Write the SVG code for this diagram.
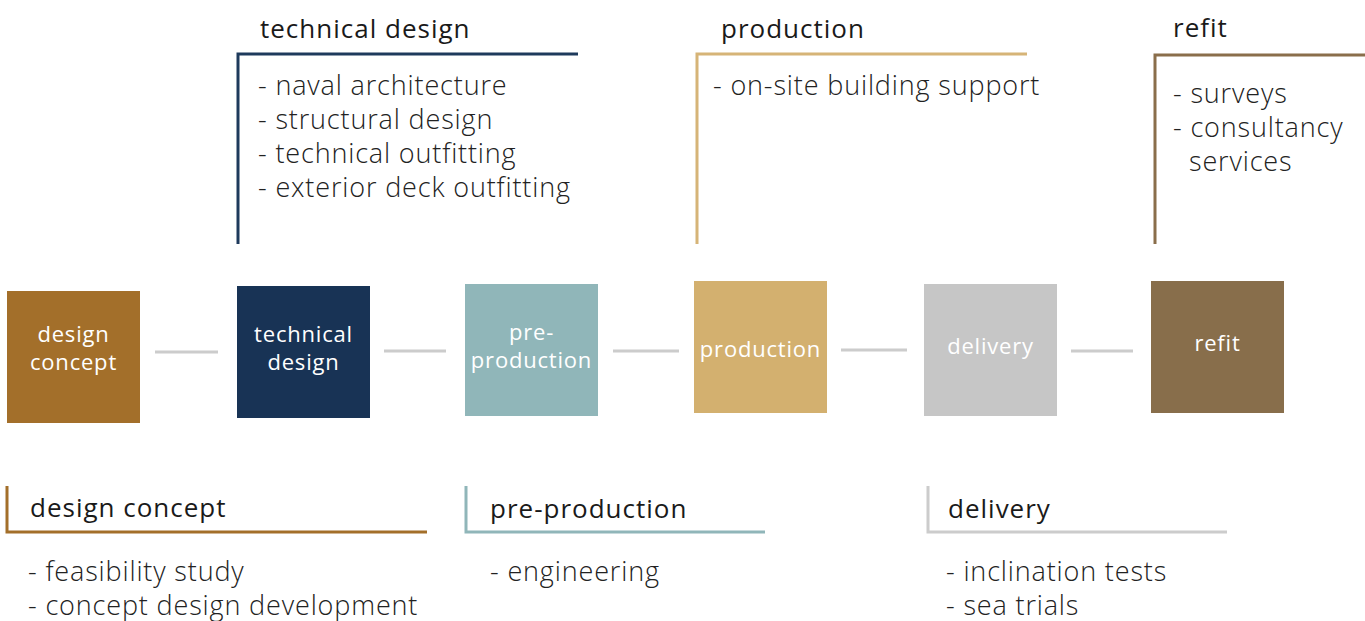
<svg xmlns="http://www.w3.org/2000/svg" width="1365" height="621" viewBox="0 0 1365 621">
<style>
.t{font-family:"Open Sans","Liberation Sans",sans-serif;font-size:26px;fill:#1a1a1a;font-weight:400;letter-spacing:1px}
.i{font-family:"Open Sans","Liberation Sans",sans-serif;font-size:27px;fill:#222222;font-weight:300;letter-spacing:0.85px}
.b{font-family:"Open Sans","Liberation Sans",sans-serif;font-size:22px;fill:#ffffff;font-weight:400;text-anchor:middle;letter-spacing:0.8px}
.c{stroke:#cccccc;stroke-width:3;fill:none}
.br{fill:none;stroke-width:3}
</style>
<rect width="1365" height="621" fill="#ffffff"/>
<g id="connectors">
<line class="c" x1="155" y1="352" x2="218" y2="352"/>
<line class="c" x1="384" y1="351" x2="446" y2="351"/>
<line class="c" x1="613" y1="351" x2="679" y2="351"/>
<line class="c" x1="841" y1="350" x2="907" y2="350"/>
<line class="c" x1="1071" y1="351" x2="1133" y2="351"/>
</g>
<g id="node-design-concept">
<rect x="7" y="291" width="133" height="132" fill="#a36f2a"/>
<text class="b" x="73.5" y="342">design</text>
<text class="b" x="73.5" y="370">concept</text>
</g>
<g id="node-technical-design">
<rect x="237" y="286" width="133" height="132" fill="#183355"/>
<text class="b" x="303.5" y="342">technical</text>
<text class="b" x="303.5" y="370">design</text>
</g>
<g id="node-pre-production">
<rect x="465" y="284" width="133" height="132" fill="#90b6b9"/>
<text class="b" x="531.5" y="340">pre-</text>
<text class="b" x="531.5" y="368">production</text>
</g>
<g id="node-production">
<rect x="694" y="281" width="133" height="132" fill="#d3b06f"/>
<text class="b" x="760.5" y="357">production</text>
</g>
<g id="node-delivery">
<rect x="924" y="284" width="133" height="132" fill="#c6c6c6"/>
<text class="b" x="990.5" y="354">delivery</text>
</g>
<g id="node-refit">
<rect x="1151" y="281" width="133" height="132" fill="#886e4b"/>
<text class="b" x="1217.5" y="351">refit</text>
</g>
<g id="info-technical-design">
<polyline class="br" stroke="#1e3a5c" points="238,244 238,54 578,54"/>
<text class="t" x="260" y="38">technical design</text>
<text class="i" x="258" y="95">- naval architecture</text>
<text class="i" x="258" y="129">- structural design</text>
<text class="i" x="258" y="163">- technical outfitting</text>
<text class="i" x="258" y="197">- exterior deck outfitting</text>
</g>
<g id="info-production">
<polyline class="br" stroke="#d6b477" points="697,244 697,54 1027,54"/>
<text class="t" x="721" y="38">production</text>
<text class="i" x="713" y="95">- on-site building support</text>
</g>
<g id="info-refit">
<polyline class="br" stroke="#8a6e4b" points="1155,244 1155,55 1365,55"/>
<text class="t" x="1173" y="37">refit</text>
<text class="i" x="1173" y="103">- surveys</text>
<text class="i" x="1173" y="137">- consultancy</text>
<text class="i" x="1189" y="171">services</text>
</g>
<g id="info-design-concept">
<polyline class="br" stroke="#a36f2a" points="7,486 7,532 427,532"/>
<text class="t" x="30" y="517">design concept</text>
<text class="i" x="28" y="581">- feasibility study</text>
<text class="i" x="28" y="615">- concept design development</text>
</g>
<g id="info-pre-production">
<polyline class="br" stroke="#90b6b9" points="466,486 466,532 765,532"/>
<text class="t" x="490" y="518">pre-production</text>
<text class="i" x="490" y="581">- engineering</text>
</g>
<g id="info-delivery">
<polyline class="br" stroke="#cccccc" points="928,486 928,532 1227,532"/>
<text class="t" x="948" y="518">delivery</text>
<text class="i" x="946" y="581">- inclination tests</text>
<text class="i" x="946" y="615">- sea trials</text>
</g>
</svg>
